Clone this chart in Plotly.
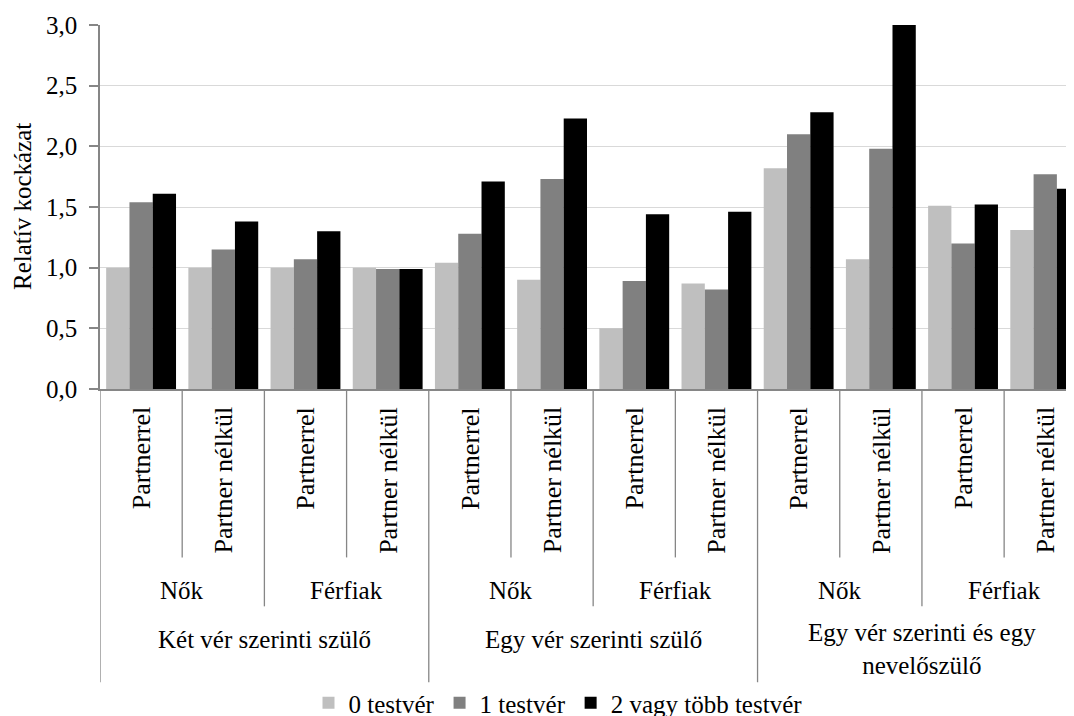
import plotly.graph_objects as go

# ---- data ----
subcats = ["Partnerrel", "Partner nélkül"] * 6
genders = ["Nők", "Férfiak"] * 3
groups = ["Két vér szerinti szülő", "Egy vér szerinti szülő",
          "Egy vér szerinti és egy<br>nevelőszülő"]
series_names = ["0 testvér", "1 testvér", "2 vagy több testvér"]
s0 = [1.00, 1.00, 1.00, 1.00, 1.04, 0.90, 0.50, 0.87, 1.82, 1.07, 1.51, 1.31]
s1 = [1.54, 1.15, 1.07, 0.99, 1.28, 1.73, 0.89, 0.82, 2.10, 1.98, 1.20, 1.77]
s2 = [1.61, 1.38, 1.30, 0.99, 1.71, 2.23, 1.44, 1.46, 2.28, 3.00, 1.52, 1.65]
y_title = "Relatív kockázat"

colors = ["#BFBFBF", "#808080", "#000000"]
FONT = "Liberation Serif, Times New Roman, serif"
OFF = 8                      # page body margin
W, H = 1074 - OFF, 716 - OFF
TOP, BOT = 24.7 - OFF, 389.3 - OFF   # figure rows of y=3 and y=0
LEFT = 100 - OFF

xs = list(range(len(subcats)))

fig = go.Figure()
for name, vals, col in zip(series_names, [s0, s1, s2], colors):
    fig.add_trace(go.Bar(x=xs, y=vals, name=name, marker_color=col,
                         marker_line_width=0))


def py(p):
    """page pixel row -> paper y"""
    return (BOT - (p - OFF)) / (BOT - TOP)


shapes = []
ann = []
GRAY = "#868686"
# separators
for b in range(len(subcats)):
    xb = b - 0.5
    if b % 4 == 0:
        yend = 683
    elif b % 2 == 0:
        yend = 607
    else:
        yend = 558
    shapes.append(dict(type="line", xref="x", yref="paper", x0=xb, x1=xb,
                       y0=0, y1=py(yend),
                       line=dict(color=GRAY, width=1.3)))

# level-1 labels
for i, s in enumerate(subcats):
    ann.append(dict(x=i, y=py(405), xref="x", yref="paper", text=s,
                    textangle=-90, showarrow=False, xanchor="center",
                    yanchor="top", font=dict(family=FONT, size=26, color="black")))
# level-2 labels
for j, g in enumerate(genders):
    ann.append(dict(x=2 * j + 0.5, y=py(591), xref="x", yref="paper", text=g,
                    showarrow=False, xanchor="center", yanchor="middle",
                    font=dict(family=FONT, size=25, color="black")))
# level-3 labels
for k, g in enumerate(groups):
    yc = 650 if "<br>" in g else 640
    ann.append(dict(x=4 * k + 1.5, y=py(yc), xref="x", yref="paper", text=g,
                    showarrow=False, xanchor="center", yanchor="middle",
                    font=dict(family=FONT, size=25, color="black")))
# y axis title
ann.append(dict(x=(22 - OFF - LEFT) / (W - LEFT), y=py(207), xref="paper", yref="paper",
                text=y_title, textangle=-90, showarrow=False,
                xanchor="center", yanchor="middle",
                font=dict(family=FONT, size=25, color="black")))

fig.update_layout(
    width=W, height=H,
    margin=dict(l=LEFT, r=0, t=TOP, b=H - BOT),
    paper_bgcolor="white", plot_bgcolor="white",
    barmode="group", bargap=0.15, bargroupgap=0,
    separators=", ",
    font=dict(family=FONT, size=25, color="black"),
    shapes=shapes, annotations=ann,
    showlegend=True,
    legend=dict(orientation="h", xref="container", yref="container",
                x=(558 - OFF) / W, xanchor="center", y=1 - (703 - OFF) / H,
                yanchor="middle",
                font=dict(family=FONT, size=25, color="black"),
                itemwidth=30, tracegroupgap=0, bgcolor="rgba(0,0,0,0)"),
)
fig.update_xaxes(range=[-0.5, 11.35], showticklabels=False, ticks="",
                 showgrid=False, showline=True, linecolor=GRAY, linewidth=1.5,
                 zeroline=False)
fig.update_yaxes(range=[0, 3], dtick=0.5, tick0=0, tickformat=".1f",
                 showgrid=True, gridcolor="#D9D9D9", gridwidth=1.2,
                 showline=True, linecolor=GRAY, linewidth=1.5,
                 ticks="outside", ticklen=9, tickcolor=GRAY, tickwidth=1.5,
                 ticklabelstandoff=7, zeroline=False,
                 tickfont=dict(family=FONT, size=25, color="black"))

fig.write_html("out.html")
